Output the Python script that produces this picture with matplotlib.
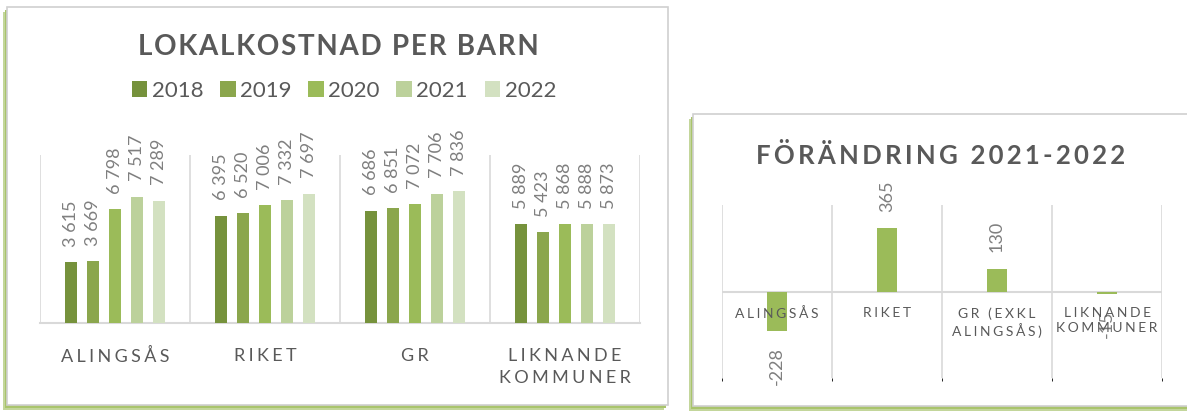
import matplotlib
matplotlib.use("Agg")
import matplotlib.pyplot as plt
from matplotlib.patches import Rectangle, Patch

plt.rcParams['font.family'] = ['Lato', 'DejaVu Sans']

# data
categories = ["ALINGSÅS", "RIKET", "GR", "LIKNANDE\nKOMMUNER"]
years = ["2018", "2019", "2020", "2021", "2022"]
values = {
    "2018": [3615, 6395, 6686, 5889],
    "2019": [3669, 6520, 6851, 5423],
    "2020": [6798, 7006, 7072, 5868],
    "2021": [7517, 7332, 7706, 5888],
    "2022": [7289, 7697, 7836, 5873],
}
change_categories = ["ALINGSÅS", "RIKET", "GR (EXKL\nALINGSÅS)", "LIKNANDE\nKOMMUNER"]
change_values = [-228, 365, 130, -15]

colors = ["#76923c", "#8ba64d", "#9bbb59", "#bcd19b", "#d3e1c1"]
grid_col = "#d9d9d9"
text_col = "#595959"
label_col = "#7f7f7f"

W, H = 1187, 412


def spaced(s, sep="\u200a"):
    return "\n".join(sep.join(line) for line in s.split("\n"))


def fx(px):
    return px / W


def fy(py):
    return 1 - py / H


fig = plt.figure(figsize=(W / 100, H / 100), dpi=100)

# panel backgrounds with green shadow
def panel(x0, y0, x1, y1):
    fig.patches.append(Rectangle((fx(x0 - 4), fy(y1 + 5)), fx(x1 - x0), (y1 - y0) / H,
                                 transform=fig.transFigure, facecolor="#c3d69b",
                                 edgecolor="none", zorder=0))
    fig.patches.append(Rectangle((fx(x0 - 2), fy(y1 + 3)), fx(x1 - x0), (y1 - y0) / H,
                                 transform=fig.transFigure, facecolor="#a9c46c",
                                 edgecolor="none", zorder=0))
    fig.patches.append(Rectangle((fx(x0), fy(y1)), fx(x1 - x0), (y1 - y0) / H,
                                 transform=fig.transFigure, facecolor="white",
                                 edgecolor="#d0d0d0", linewidth=1.2, zorder=1))

panel(7, 7, 668, 405)
panel(693, 114, 1195, 406)

# left chart
ax1 = fig.add_axes([fx(40), fy(323), fx(600), 168 / H])
ax1.set_zorder(5)
ax1.patch.set_visible(False)
ax1.set_xlim(-0.5, 3.5)
ax1.set_ylim(0, 10000)
step = 0.1467
for j, yr in enumerate(years):
    xs = [i + (j - 2) * step for i in range(len(categories))]
    ax1.bar(xs, values[yr], width=0.08, color=colors[j], zorder=3)
    for x, v in zip(xs, values[yr]):
        ax1.annotate(f"{v:,}".replace(",", " "), (x, v), xytext=(0, 11),
                     textcoords="offset points", rotation=90, ha="center",
                     va="bottom", fontsize=13, color=label_col)

ax1.set_xticks(range(len(categories)))
ax1.set_xticklabels([spaced(c, "\u2009\u200a") for c in categories], fontsize=13,
                    color=text_col, linespacing=1.45, va="top")
ax1.tick_params(axis="x", length=0, pad=18)
ax1.set_yticks([])
ax1.set_xticks([-0.5, 0.5, 1.5, 2.5, 3.5], minor=True)
ax1.tick_params(axis="x", which="minor", length=0)
ax1.grid(axis="x", which="minor", color=grid_col, linewidth=1.2, zorder=0)
for s in ["top", "left", "right"]:
    ax1.spines[s].set_visible(False)
ax1.spines["bottom"].set_color(grid_col)
ax1.spines["bottom"].set_linewidth(1.5)

fig.text(fx(338), fy(47), spaced("LOKALKOSTNAD PER BARN"), fontsize=20,
         fontweight="bold", color=text_col, ha="center", va="center", zorder=5)

handles = [Patch(facecolor=c, edgecolor="none") for c in colors]
leg = fig.legend(handles, years, loc="center", bbox_to_anchor=(fx(344), fy(91)), ncol=5,
                 frameon=False, fontsize=16, handlelength=0.7, handleheight=0.7,
                 handletextpad=0.2, columnspacing=0.75, labelcolor=text_col)
leg.set_zorder(5)

# right chart
ax2 = fig.add_axes([fx(722), fy(378), fx(440), 173 / H])
ax2.set_zorder(5)
ax2.patch.set_visible(False)
ax2.set_xlim(-0.5, 3.5)
ax2.set_ylim(-500, 500)
xs = list(range(len(change_categories)))
ax2.bar(xs, change_values, width=0.18, color="#9bbb59", zorder=2)
for x, v in zip(xs, change_values):
    if v >= 0:
        ax2.annotate(str(v), (x, v), xytext=(0, 12), textcoords="offset points",
                     rotation=90, ha="center", va="bottom", fontsize=13, color=label_col)
    else:
        ax2.annotate(str(v), (x, v), xytext=(0, -12), textcoords="offset points",
                     rotation=90, ha="center", va="top", fontsize=13, color=label_col)
ax2.axhline(0, color=grid_col, linewidth=1.5, zorder=1)
ax2.set_xticks([-0.5, 0.5, 1.5, 2.5, 3.5], minor=True)
ax2.grid(axis="x", which="minor", color=grid_col, linewidth=1.2, zorder=0)
ax2.set_xticks([])
ax2.set_yticks([])
for s in ax2.spines.values():
    s.set_visible(False)
for x, c in zip(xs, change_categories):
    ax2.text(x, -90, spaced(c, "\u2009\u200a"), ha="center", va="top", fontsize=10,
             color=text_col, linespacing=1.25, zorder=4)

fig.text(fx(941), fy(155), spaced("FÖRÄNDRING 2021-2022", "\u2009"), fontsize=18.5,
         fontweight="bold", color=text_col, ha="center", va="center", zorder=5)

fig.savefig("out.png", dpi=100)
